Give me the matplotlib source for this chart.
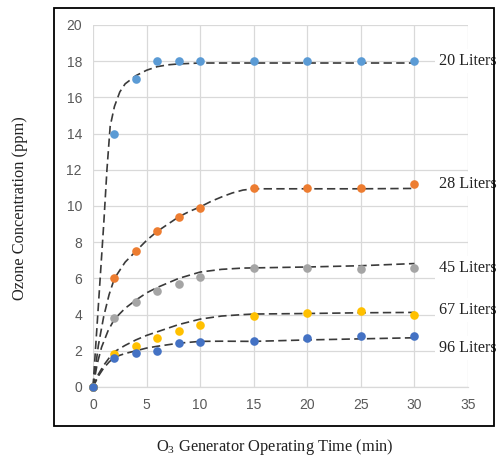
import matplotlib
matplotlib.use("Agg")
import matplotlib.pyplot as plt
from matplotlib.patches import Rectangle

plt.rcParams['mathtext.default'] = 'regular'

time_min = [0, 2, 4, 6, 8, 10, 15, 20, 25, 30]
series_names = ["20 Liters", "28 Liters", "45 Liters", "67 Liters", "96 Liters"]
conc_20 = [0, 14.0, 17.0, 18.0, 18.0, 18.0, 18.0, 18.0, 18.0, 18.0]
conc_28 = [0, 6.0, 7.5, 8.6, 9.4, 9.9, 11.0, 11.0, 11.0, 11.2]
conc_45 = [0, 3.8, 4.7, 5.3, 5.7, 6.1, 6.6, 6.6, 6.5, 6.6]
conc_67 = [0, 1.85, 2.25, 2.7, 3.1, 3.4, 3.9, 4.1, 4.2, 4.0]
conc_96 = [0, 1.6, 1.88, 2.0, 2.43, 2.5, 2.55, 2.7, 2.8, 2.8]

# trend curves
trend_20_x = [0, 0.5, 1.0, 1.3, 1.6, 2.0, 2.5, 3, 4, 5, 6, 7, 8, 10, 15, 20, 25, 30]
trend_20_y = [0, 4.5, 9.0, 12.0, 14.4, 15.5, 16.3, 16.75, 17.2, 17.5, 17.7, 17.8, 17.85, 17.9, 17.9, 17.9, 17.9, 17.9]
trend_28_x = [0, 0.5, 1, 1.5, 2, 3, 4, 5, 6, 7, 8, 9, 10, 11, 12, 13, 14, 15, 20, 25, 30]
trend_28_y = [0, 2.3, 3.9, 5.1, 6.0, 6.9, 7.5, 8.1, 8.6, 9.0, 9.4, 9.7, 9.95, 10.25, 10.5, 10.72, 10.88, 10.95, 10.95, 10.95, 10.97]
trend_45_x = [0, 0.4, 0.8, 1.4, 2, 3, 4, 5, 6, 8, 10, 12, 14, 15, 20, 25, 30]
trend_45_y = [0, 1.3, 2.2, 3.1, 3.75, 4.35, 4.8, 5.2, 5.5, 6.0, 6.35, 6.5, 6.57, 6.58, 6.63, 6.7, 6.82]
trend_67_x = [0, 0.5, 1, 1.5, 2, 3, 4, 5, 6, 8, 10, 12, 14, 15, 20, 25, 30]
trend_67_y = [0, 0.7, 1.2, 1.6, 1.95, 2.3, 2.6, 2.85, 3.05, 3.45, 3.75, 3.92, 4.0, 4.03, 4.06, 4.1, 4.12]
trend_96_x = [0, 0.5, 1, 1.5, 2, 3, 4, 5, 6, 8, 10, 12, 15, 20, 25, 30]
trend_96_y = [0, 0.6, 1.05, 1.38, 1.65, 1.85, 2.0, 2.15, 2.25, 2.42, 2.52, 2.53, 2.52, 2.6, 2.66, 2.72]

colors = ["#5B9BD5", "#ED7D31", "#A5A5A5", "#FFC000", "#4472C4"]
label_y = [18.0, 11.2, 6.6, 4.25, 2.15]

fig = plt.figure(figsize=(4.99, 4.57), dpi=100)
ax = fig.add_axes([0.1864, 0.1532, 0.7515, 0.7921])

# outer border
fig.patches.append(Rectangle((54 / 499, 1 - 426 / 457), (494 - 54) / 499, (426 - 8) / 457,
                             transform=fig.transFigure, fill=False, edgecolor="black",
                             linewidth=1.3, zorder=0))

data = [conc_20, conc_28, conc_45, conc_67, conc_96]
trends = [(trend_20_x, trend_20_y), (trend_28_x, trend_28_y), (trend_45_x, trend_45_y),
          (trend_67_x, trend_67_y), (trend_96_x, trend_96_y)]

for (tx, ty) in trends:
    ax.plot(tx, ty, color="#3a3a3a", lw=1.2, dashes=(5, 2.6), zorder=2, clip_on=False)
for vals, c in zip(data, colors):
    ax.plot(time_min, vals, 'o', color=c, markersize=6.2, markeredgewidth=0, zorder=3, clip_on=False)

ax.set_xlim(0, 35)
ax.set_ylim(0, 20)
ax.set_xticks(range(0, 36, 5))
ax.set_yticks(range(0, 21, 2))
ax.grid(True, color="#D9D9D9", linewidth=0.9)
ax.set_axisbelow(True)
for s in ["top", "right", "left"]:
    ax.spines[s].set_visible(False)
ax.spines["bottom"].set_color("#D9D9D9")
ax.spines["bottom"].set_linewidth(0.9)
ax.tick_params(length=0, labelsize=10, labelcolor="#595959", pad=8)
for lab in ax.get_xticklabels() + ax.get_yticklabels():
    lab.set_fontfamily("Liberation Sans")

for name, yv in zip(series_names, label_y):
    ax.text(32.3, yv, name, ha="left", va="center", fontsize=11.6, family="Liberation Serif",
            color="#222222", zorder=5, clip_on=False,
            bbox=dict(boxstyle="square,pad=0.25", facecolor="white", edgecolor="none"))

fig.text(20 / 499, 1 - 208 / 457, "Ozone Concentration (ppm)", rotation=90, ha="center", va="center",
         fontsize=11.8, family="Liberation Serif", color="#222222")
fig.text(275 / 499, 1 - 447 / 457, "O$_3$ Generator Operating Time (min)", ha="center", va="center",
         fontsize=11.8, family="Liberation Serif", color="#222222")

fig.savefig("out.png", dpi=100)
